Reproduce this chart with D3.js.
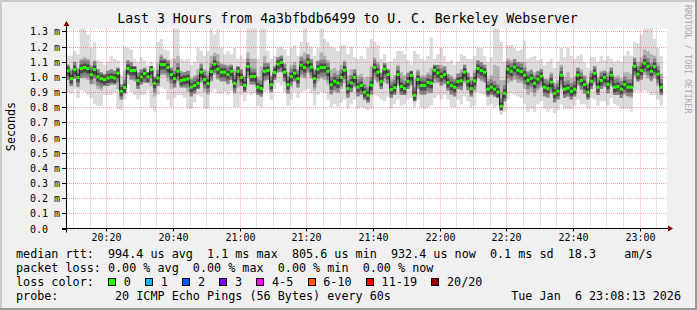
<!DOCTYPE html>
<html lang="en">
<head>
<meta charset="UTF-8">
<title>SmokePing - U. C. Berkeley Webserver</title>
<style>
  body { margin: 0; background: #f0f0f0; }
  svg { display: block; }
  text { font-family: "DejaVu Sans Mono", monospace; white-space: pre; }
</style>
<script src="https://cdn.jsdelivr.net/npm/d3@7"></script>
</head>
<body>
<svg id="chart" width="697" height="310"></svg>
<script>
// one value per minute, in milliseconds
const medianRtt = [
  1.040,0.989,1.048,0.996,1.055,1.062,1.055,1.015,1.048,1.000,
  0.989,0.982,0.993,0.998,0.993,1.024,0.905,0.930,1.055,1.042,
  1.042,0.976,1.000,1.022,1.000,1.048,0.958,0.993,1.081,1.081,
  1.062,1.015,0.989,1.037,0.976,0.982,0.987,0.932,0.943,0.958,
  1.031,0.982,0.956,1.035,1.084,
  1.051,1.031,1.031,1.015,1.037,0.958,1.037,0.996,0.945,1.068,
  1.002,1.002,0.932,0.923,1.037,1.042,0.949,1.029,1.084,1.095,
  1.031,0.949,1.002,1.024,0.989,1.077,1.062,1.097,1.064,0.989,
  1.051,1.062,1.062,1.037,0.949,0.971,0.960,0.996,1.044,0.923,
  0.960,0.996,0.932,0.943,0.899,
  0.879,0.945,1.062,1.031,0.971,1.051,1.015,0.916,0.930,1.015,
  0.936,0.923,0.971,1.009,0.879,0.982,0.943,0.943,0.963,0.958,
  1.044,1.026,1.002,1.015,0.963,0.943,0.932,0.969,0.974,1.031,
  0.971,0.923,0.974,1.055,1.042,1.031,0.919,0.932,0.919,0.899,
  0.806,0.892,1.051,1.037,1.064,
  1.044,1.035,1.011,0.978,0.991,0.958,0.985,1.004,0.932,0.923,
  0.965,0.892,0.905,1.011,0.919,0.925,0.905,0.919,1.011,0.976,
  0.949,0.899,0.971,1.024,0.932,0.976,0.996,0.952,1.011,0.932,
  0.936,0.919,0.949,0.932,0.932,1.070,1.018,1.042,1.090,1.070,
  1.037,1.068,1.018,0.932
];
const smokeHi = [
  1.14,1.14,1.17,1.15,1.32,1.32,1.28,1.19,1.23,1.11,
  1.10,1.08,1.10,1.14,1.12,1.11,1.01,1.20,1.19,1.18,
  1.12,1.10,1.13,1.11,1.08,1.10,1.06,1.23,1.25,1.18,
  1.17,1.12,1.32,1.32,1.12,1.11,1.12,1.08,1.10,1.19,
  1.17,1.14,1.17,1.32,1.28,
  1.32,1.19,1.15,1.17,1.15,1.19,1.12,1.14,1.12,1.32,
  1.32,1.32,1.12,1.32,1.32,1.17,1.12,1.14,1.19,1.20,
  1.18,1.14,1.19,1.21,1.14,1.23,1.32,1.23,1.20,1.14,
  1.19,1.32,1.25,1.23,1.20,1.19,1.17,1.21,1.21,1.15,
  1.20,1.13,1.12,1.14,1.12,
  1.19,1.25,1.23,1.21,1.12,1.15,1.10,1.10,1.12,1.17,
  1.17,1.15,1.11,1.08,1.17,1.15,1.12,1.11,1.14,1.26,
  1.12,1.15,1.19,1.14,1.10,1.11,1.08,1.10,1.15,1.14,
  1.12,1.12,1.14,1.19,1.19,1.14,1.10,1.13,1.32,1.32,
  1.23,1.10,1.21,1.21,1.19,
  1.17,1.18,1.24,1.12,1.13,1.14,1.11,1.12,1.08,1.10,
  1.12,1.06,1.10,1.19,1.13,1.19,1.14,1.12,1.14,1.15,
  1.10,1.06,1.13,1.13,1.10,1.14,1.11,1.14,1.12,1.10,
  1.11,1.10,1.14,1.17,1.14,1.23,1.22,1.28,1.32,1.32,
  1.32,1.25,1.19,1.14
];
const smokeLo = [
  0.90,0.89,0.92,0.86,0.91,0.90,0.88,0.86,0.82,0.81,
  0.81,0.88,0.88,0.88,0.90,0.79,0.78,0.85,0.95,0.90,
  0.88,0.85,0.88,0.88,0.91,0.80,0.77,0.88,0.93,0.92,
  0.85,0.80,0.86,0.88,0.88,0.86,0.79,0.79,0.83,0.88,
  0.87,0.79,0.79,0.90,0.92,
  0.89,0.89,0.90,0.88,0.91,0.80,0.80,0.88,0.84,0.89,
  0.88,0.89,0.81,0.80,0.90,0.91,0.85,0.92,0.96,0.94,
  0.90,0.81,0.85,0.90,0.86,0.90,0.91,0.92,0.89,0.81,
  0.88,0.90,0.89,0.85,0.80,0.82,0.80,0.83,0.85,0.79,
  0.82,0.85,0.79,0.80,0.79,
  0.78,0.79,0.88,0.87,0.85,0.84,0.87,0.79,0.82,0.85,
  0.81,0.82,0.85,0.86,0.80,0.85,0.80,0.79,0.80,0.81,
  0.86,0.88,0.85,0.88,0.85,0.80,0.80,0.85,0.82,0.87,
  0.84,0.80,0.81,0.90,0.89,0.88,0.81,0.82,0.80,0.81,
  0.75,0.77,0.85,0.89,0.88,
  0.87,0.86,0.82,0.77,0.79,0.77,0.82,0.84,0.79,0.77,
  0.79,0.76,0.78,0.82,0.79,0.79,0.79,0.81,0.85,0.82,
  0.82,0.79,0.86,0.85,0.81,0.84,0.84,0.81,0.86,0.82,
  0.81,0.79,0.79,0.79,0.77,0.90,0.91,0.90,0.91,0.90,
  0.88,0.88,0.85,0.81
];
const innerHi = [
  1.08,1.05,1.10,1.06,1.12,1.13,1.12,1.08,1.11,1.05,
  1.03,1.02,1.04,1.05,1.04,1.06,0.95,1.04,1.11,1.10,
  1.07,1.03,1.05,1.06,1.03,1.07,1.00,1.09,1.15,1.12,
  1.11,1.06,1.12,1.14,1.04,1.03,1.04,0.99,1.01,1.05,
  1.09,1.05,1.04,1.14,1.16,
  1.15,1.09,1.08,1.08,1.08,1.05,1.07,1.05,1.01,1.16,
  1.12,1.12,1.00,1.07,1.14,1.09,1.01,1.07,1.13,1.14,
  1.09,1.03,1.08,1.10,1.05,1.14,1.16,1.15,1.12,1.05,
  1.11,1.16,1.14,1.11,1.05,1.06,1.04,1.08,1.11,1.01,
  1.05,1.05,1.01,1.02,0.99,
  1.00,1.07,1.13,1.10,1.03,1.09,1.05,0.99,1.01,1.08,
  1.03,1.01,1.03,1.04,0.99,1.05,1.01,1.01,1.03,1.06,
  1.08,1.08,1.08,1.07,1.02,1.01,0.99,1.02,1.05,1.08,
  1.03,1.00,1.04,1.11,1.10,1.08,0.99,1.01,1.08,1.07,
  0.98,0.98,1.12,1.11,1.12,
  1.10,1.10,1.10,1.04,1.05,1.03,1.04,1.05,0.99,0.99,
  1.03,0.96,0.98,1.08,1.00,1.03,0.99,1.00,1.06,1.05,
  1.01,0.96,1.04,1.07,1.00,1.04,1.04,1.03,1.06,1.00,
  1.01,0.99,1.03,1.03,1.02,1.13,1.10,1.13,1.18,1.17,
  1.15,1.14,1.09,1.02
];
const innerLo = [
  0.98,0.94,0.99,0.93,0.99,0.99,0.98,0.95,0.95,0.92,
  0.91,0.94,0.94,0.95,0.95,0.92,0.85,0.89,1.01,0.98,
  0.97,0.92,0.95,0.96,0.96,0.94,0.87,0.94,1.01,1.01,
  0.97,0.92,0.93,0.97,0.93,0.93,0.90,0.87,0.89,0.92,
  0.96,0.90,0.88,0.97,1.01,
  0.98,0.97,0.97,0.95,0.98,0.89,0.93,0.94,0.90,0.99,
  0.95,0.95,0.88,0.87,0.97,0.98,0.90,0.98,1.03,1.03,
  0.97,0.89,0.93,0.97,0.93,1.00,0.99,1.02,0.99,0.91,
  0.97,0.99,0.98,0.95,0.88,0.90,0.89,0.92,0.96,0.86,
  0.90,0.93,0.87,0.88,0.85,
  0.83,0.88,0.98,0.96,0.92,0.96,0.95,0.86,0.88,0.94,
  0.88,0.88,0.92,0.94,0.84,0.92,0.88,0.88,0.89,0.89,
  0.96,0.96,0.94,0.95,0.91,0.88,0.87,0.92,0.91,0.96,
  0.91,0.87,0.90,0.99,0.97,0.96,0.87,0.88,0.87,0.86,
  0.78,0.84,0.96,0.97,0.98,
  0.96,0.96,0.92,0.88,0.90,0.87,0.91,0.93,0.87,0.86,
  0.89,0.83,0.85,0.93,0.86,0.87,0.85,0.87,0.94,0.91,
  0.89,0.85,0.92,0.95,0.88,0.92,0.93,0.89,0.94,0.88,
  0.88,0.86,0.88,0.87,0.86,1.00,0.97,0.98,1.01,0.99,
  0.97,0.99,0.94,0.88
];

const yTicks = [0, 0.1, 0.2, 0.3, 0.4, 0.5, 0.6, 0.7, 0.8, 0.9, 1.0, 1.1, 1.2, 1.3];
const xTickLabels = ["20:20", "20:40", "21:00", "21:20", "21:40", "22:00", "22:20", "22:40", "23:00"];
const lossLabels = ["0", "1", "2", "3", "4-5", "6-10", "11-19", "20/20"];
const lossColors = ["#26ff00", "#00b8ff", "#0059ff", "#7e00ff", "#ff00ff", "#ff5500", "#ff0000", "#a10000"];

const title = "Last 3 Hours from 4a3bfbdb6499 to U. C. Berkeley Webserver";
const rttLine = "median rtt:  994.4 us avg  1.1 ms max  805.6 us min  932.4 us now  0.1 ms sd  18.3    am/s";
const lossLine = "packet loss: 0.00 % avg  0.00 % max  0.00 % min  0.00 % now";
const probeLine = "probe:        20 ICMP Echo Pings (56 Bytes) every 60s";
const stamp = "Tue Jan  6 23:08:13 2026";

const W = 697, H = 310;
const plotL = 67, plotR = 667, plotT = 28.5, plotB = 228.5;
const tStart = new Date(2026, 0, 6, 20, 8, 13);
const tEnd = new Date(2026, 0, 6, 23, 8, 13);

const svg = d3.select("#chart");
const x = d3.scaleTime().domain([tStart, tEnd]).range([plotL, plotR]);
const y = d3.scaleLinear().domain([0, 1.319]).range([plotB, plotT]).clamp(true);

// background + rrdtool style shading
svg.append("rect").attr("width", W).attr("height", H).attr("fill", "#f0f0f0");
svg.append("path").attr("d", `M1,${H} V1 H${W}`).attr("stroke", "#cbcbcb").attr("stroke-width", 2).attr("fill", "none");
svg.append("path").attr("d", `M0,${H - 1} H${W - 1} V0`).attr("stroke", "#999").attr("stroke-width", 2).attr("fill", "none");
svg.append("rect").attr("x", plotL).attr("y", plotT).attr("width", plotR - plotL).attr("height", plotB - plotT).attr("fill", "#fff");

// per-minute steps
const steps = medianRtt.map((m, k) => ({
  t: k === 0 ? tStart : new Date(2026, 0, 6, 20, 8 + k, 0),
  t2: new Date(2026, 0, 6, 20, 9 + k, 0),
  med: m, hi: smokeHi[k], lo: smokeLo[k], hi2: innerHi[k], lo2: innerLo[k]
}));
const pts = steps.concat([Object.assign({}, steps[steps.length - 1], { t: steps[steps.length - 1].t2 })]);

const band = (y0, y1) => d3.area().x(d => x(d.t)).y0(y0).y1(y1).curve(d3.curveStepAfter);

// smoke: light outer envelope, darker towards the median
const plot = svg.append("g");
plot.append("path").datum(pts).attr("fill", "#dcdcdc").attr("d", band(d => y(d.lo), d => y(d.hi)));
plot.append("path").datum(pts).attr("fill", "#b3b3b3").attr("d", band(d => y(d.lo2), d => y(d.hi2)));
plot.append("path").datum(pts).attr("fill", "#858585")
  .attr("d", band(d => Math.min(y(d.lo2), y(d.med) + 9), d => Math.max(y(d.hi2), y(d.med) - 8)));
plot.append("path").datum(pts).attr("fill", "#4a4a4a")
  .attr("d", band(d => Math.min(y(d.lo2), y(d.med) + 5), d => Math.max(y(d.hi2), y(d.med) - 4)));

// grid
const grid = svg.append("g").attr("stroke-dasharray", "1,1").attr("stroke-width", 1);
d3.timeMinute.every(5).range(tStart, tEnd).forEach(t => {
  const major = t.getMinutes() % 20 === 0;
  const px = Math.round(x(t)) + 0.5;
  grid.append("line").attr("x1", px).attr("x2", px).attr("y1", plotT).attr("y2", plotB)
    .attr("stroke", major ? "rgba(255,0,0,0.35)" : "rgba(120,120,120,0.4)");
});
yTicks.slice(1).forEach(v => {
  const py = Math.round(y(v)) + 0.5;
  grid.append("line").attr("x1", plotL).attr("x2", plotR).attr("y1", py).attr("y2", py)
    .attr("stroke", "rgba(255,0,0,0.35)");
});

// median line, coloured by loss (all 0 here)
plot.append("path").datum(pts).attr("fill", "none").attr("stroke", "#1a1a1a").attr("stroke-width", 1)
  .attr("d", d3.line().x(d => x(d.t)).y(d => y(d.med)).curve(d3.curveStepAfter));
plot.selectAll("rect.med").data(steps).join("rect").attr("class", "med")
  .attr("x", d => x(d.t)).attr("width", d => x(d.t2) - x(d.t))
  .attr("y", d => y(d.med) - 1.5).attr("height", 3)
  .attr("fill", lossColors[0]);

// axes
svg.append("line").attr("x1", 62).attr("x2", 670).attr("y1", plotB).attr("y2", plotB).attr("stroke", "#000");
svg.append("line").attr("x1", plotL - 0.5).attr("x2", plotL - 0.5).attr("y1", plotB + 4).attr("y2", 24).attr("stroke", "#000");
svg.append("path").attr("d", `M${plotL - 3.5},26 L${plotL + 2.5},26 L${plotL - 0.5},21 Z`).attr("fill", "#7f0000");
svg.append("path").attr("d", `M668,${plotB - 3} L668,${plotB + 3} L673,${plotB} Z`).attr("fill", "#7f0000");

yTicks.forEach(v => {
  const py = Math.round(y(v)) + 0.5;
  svg.append("line").attr("x1", 62).attr("x2", plotL).attr("y1", py).attr("y2", py).attr("stroke", "#000");
  svg.append("text").attr("x", 30).attr("y", py + 3.5).attr("font-size", 10)
    .text(v === 0 ? "0.0" : d3.format(".1f")(v) + " m");
});
xTickLabels.forEach(s => {
  const [hh, mm] = s.split(":").map(Number);
  const px = Math.round(x(new Date(2026, 0, 6, hh, mm, 0))) + 0.5;
  svg.append("line").attr("x1", px).attr("x2", px).attr("y1", plotB).attr("y2", plotB + 3).attr("stroke", "#000");
  svg.append("text").attr("x", px).attr("y", 240.5).attr("font-size", 10).attr("text-anchor", "middle").text(s);
});

// titles
svg.append("text").attr("x", 347.5).attr("y", 22.5).attr("font-size", 13.2).attr("text-anchor", "middle").text(title);
svg.append("text").attr("transform", "translate(14.5,126.5) rotate(-90)").attr("font-size", 11.7)
  .attr("text-anchor", "middle").text("Seconds");
svg.append("text").attr("transform", "translate(685,5) rotate(90)").attr("font-size", 8.2)
  .attr("fill", "#aaa").text("RRDTOOL / TOBI OETIKER");

// legend
const fs = 11.76, cw = 7.08, lx = 16;
svg.append("text").attr("x", lx).attr("y", 257.7).attr("font-size", fs).text(rttLine);
svg.append("text").attr("x", lx).attr("y", 271.9).attr("font-size", fs).text(lossLine);
svg.append("text").attr("x", lx).attr("y", 286.1).attr("font-size", fs).text("loss color:");
let cx = lx + 13 * cw;
lossLabels.forEach((lab, i) => {
  svg.append("rect").attr("x", Math.round(cx) + 0.5).attr("y", 278.5).attr("width", 7).attr("height", 7)
    .attr("fill", lossColors[i]).attr("stroke", "#000");
  svg.append("text").attr("x", cx + 15.7).attr("y", 286.1).attr("font-size", fs).text(lab);
  cx += 15.7 + lab.length * cw + 14.3;
});
svg.append("text").attr("x", lx).attr("y", 300.3).attr("font-size", fs).text(probeLine);
svg.append("text").attr("x", 681).attr("y", 300.3).attr("font-size", fs).attr("text-anchor", "end").text(stamp);
</script>
</body>
</html>
